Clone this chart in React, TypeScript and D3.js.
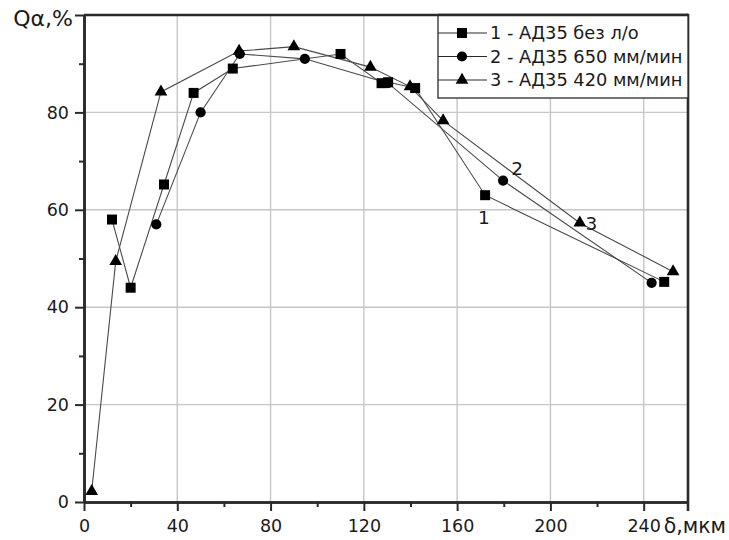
import { useEffect, useRef } from "react";
import * as d3 from "d3";

// δ, мкм (x) / Qα, % (y) for each curve
const series1X = [12, 20, 34.3, 47, 63.8, 110, 127.6, 130.4, 142, 172, 248.8];
const series1Y = [58, 44, 65.2, 84, 89, 92, 86, 86.2, 85, 63, 45.2];
const series2X = [31, 50, 66.8, 94.7, 130.4, 179.7, 243.4];
const series2Y = [57, 80, 92, 91, 86, 66, 45];
const series3X = [3.3, 13.6, 33, 66.5, 90, 122.8, 139.8, 154, 212.6, 252.6];
const series3Y = [2.2, 49.4, 84.2, 92.6, 93.5, 89.3, 85.3, 78.3, 57.3, 47.3];

const legendLabels = ["1 - АД35 без л/о", "2 - АД35 650 мм/мин", "3 - АД35 420 мм/мин"];
const xTicks = [0, 40, 80, 120, 160, 200, 240];
const xMinor = [20, 60, 100, 140, 180, 220];
const yTicks = [0, 20, 40, 60, 80, 100];
const yMinor = [10, 30, 50, 70, 90];

// curve numbers written next to the lines
const curveNames = ["1", "2", "3"];
const curveNameX = [171.5, 185.7, 217.6];
const curveNameY = [58.4, 68.6, 57.3];

const FONT = "DejaVu Sans, sans-serif";

export default function App() {
  const ref = useRef(null);

  useEffect(() => {
    const width = 729;
    const height = 540;
    const margin = { top: 15, right: 41, bottom: 38, left: 84 };

    const svg = d3.select(ref.current);
    svg.selectAll("*").remove();
    svg.attr("viewBox", `0 0 ${width} ${height}`);

    const x = d3.scaleLinear().domain([0, 259]).range([margin.left, width - margin.right]);
    const y = d3.scaleLinear().domain([0, 100]).range([height - margin.bottom, margin.top]);

    svg.append("rect").attr("width", width).attr("height", height).attr("fill", "#fff");

    // grid
    const grid = svg.append("g").attr("stroke", "#c6c6c6").attr("stroke-width", 1.4);
    grid
      .selectAll("line.gx")
      .data(xTicks.slice(1))
      .join("line")
      .attr("x1", (d) => x(d))
      .attr("x2", (d) => x(d))
      .attr("y1", y(0))
      .attr("y2", y(100));
    grid
      .selectAll("line.gy")
      .data(yTicks.slice(1, -1))
      .join("line")
      .attr("x1", x(0))
      .attr("x2", x(259))
      .attr("y1", (d) => y(d))
      .attr("y2", (d) => y(d));

    const styleAxis = (g) => {
      g.selectAll("path,line").attr("stroke", "#2a2a2a");
      g.select(".domain").attr("stroke-width", 2.6);
      g.selectAll(".tick line").attr("stroke-width", 2);
      g.selectAll("text")
        .attr("fill", "#1a1a1a")
        .attr("font-family", FONT)
        .attr("font-size", 17.5);
    };

    // x axis
    svg
      .append("g")
      .attr("transform", `translate(0,${y(0)})`)
      .call(d3.axisBottom(x).tickValues(xMinor).tickSize(5).tickSizeOuter(0).tickFormat(() => ""))
      .call(styleAxis);
    svg
      .append("g")
      .attr("transform", `translate(0,${y(0)})`)
      .call(d3.axisBottom(x).tickValues(xTicks).tickSize(9).tickSizeOuter(0).tickPadding(9))
      .call(styleAxis);

    // y axis
    svg
      .append("g")
      .attr("transform", `translate(${x(0)},0)`)
      .call(d3.axisLeft(y).tickValues(yMinor).tickSize(5).tickSizeOuter(0).tickFormat(() => ""))
      .call(styleAxis);
    svg
      .append("g")
      .attr("transform", `translate(${x(0)},0)`)
      .call(
        d3
          .axisLeft(y)
          .tickValues(yTicks)
          .tickSize(9)
          .tickSizeOuter(0)
          .tickPadding(6)
          .tickFormat((d) => (d === 100 ? "" : String(d))),
      )
      .call(styleAxis);

    // top and right frame
    svg
      .append("line")
      .attr("x1", x(0))
      .attr("x2", x(259))
      .attr("y1", y(100))
      .attr("y2", y(100))
      .attr("stroke", "#2a2a2a")
      .attr("stroke-width", 2.6);
    svg
      .append("line")
      .attr("x1", x(259))
      .attr("x2", x(259))
      .attr("y1", y(100) - 1.3)
      .attr("y2", y(0) + 9)
      .attr("stroke", "#2a2a2a")
      .attr("stroke-width", 2.6);

    // axis titles
    svg
      .append("text")
      .attr("x", x(0) - 11)
      .attr("y", y(100) + 11)
      .attr("text-anchor", "end")
      .attr("font-family", FONT)
      .attr("font-size", 22)
      .attr("fill", "#1a1a1a")
      .text("Qα,%");
    svg
      .append("text")
      .attr("x", x(240) + 20)
      .attr("y", y(0) + 31)
      .attr("font-family", FONT)
      .attr("font-size", 20.5)
      .attr("fill", "#1a1a1a")
      .text("δ,мкм");

    const curves = [
      { xs: series1X, ys: series1Y, symbol: d3.symbolSquare, size: 100 },
      { xs: series2X, ys: series2Y, symbol: d3.symbolCircle, size: 82 },
      { xs: series3X, ys: series3Y, symbol: d3.symbolTriangle, size: 70 },
    ];

    const line = d3
      .line()
      .x((d) => x(d[0]))
      .y((d) => y(d[1]));

    curves.forEach((c) => {
      const pts = c.xs.map((v, i) => [v, c.ys[i]]);
      svg
        .append("path")
        .attr("d", line(pts))
        .attr("fill", "none")
        .attr("stroke", "#4a4a4a")
        .attr("stroke-width", 1.1);
    });

    curves.forEach((c) => {
      const pts = c.xs.map((v, i) => [v, c.ys[i]]);
      svg
        .append("g")
        .selectAll("path")
        .data(pts)
        .join("path")
        .attr("transform", (d) => `translate(${x(d[0])},${y(d[1])})`)
        .attr("d", d3.symbol().type(c.symbol).size(c.size)())
        .attr("fill", "#000");
    });

    svg
      .append("g")
      .selectAll("text")
      .data(curveNames)
      .join("text")
      .attr("x", (d, i) => x(curveNameX[i]))
      .attr("y", (d, i) => y(curveNameY[i]))
      .attr("dy", "0.36em")
      .attr("text-anchor", "middle")
      .attr("font-family", FONT)
      .attr("font-size", 18.5)
      .attr("fill", "#1a1a1a")
      .text((d) => d);

    // legend
    const lx = 438;
    const ly = y(100);
    const legend = svg.append("g");
    legend
      .append("rect")
      .attr("x", lx)
      .attr("y", ly)
      .attr("width", x(259) - lx)
      .attr("height", 83)
      .attr("fill", "#fff")
      .attr("stroke", "#2a2a2a")
      .attr("stroke-width", 1.3);
    legend
      .append("line")
      .attr("x1", lx)
      .attr("x2", x(259))
      .attr("y1", ly)
      .attr("y2", ly)
      .attr("stroke", "#2a2a2a")
      .attr("stroke-width", 2.6);

    legendLabels.forEach((label, i) => {
      const cy = ly + 18 + i * 23.5;
      legend
        .append("line")
        .attr("x1", lx)
        .attr("x2", lx + 49)
        .attr("y1", cy)
        .attr("y2", cy)
        .attr("stroke", "#2a2a2a")
        .attr("stroke-width", 1.1);
      legend
        .append("path")
        .attr("transform", `translate(${lx + 24},${cy})`)
        .attr("d", d3.symbol().type(curves[i].symbol).size(curves[i].size)())
        .attr("fill", "#000");
      legend
        .append("text")
        .attr("x", lx + 52)
        .attr("y", cy)
        .attr("dy", "0.36em")
        .attr("font-family", FONT)
        .attr("font-size", 17.8)
        .attr("fill", "#1a1a1a")
        .text(label);
    });
  }, []);

  return (
    <div style={{ position: "absolute", left: 0, top: 0 }}>
      <svg ref={ref} width={729} height={540} style={{ display: "block" }} />
    </div>
  );
}
